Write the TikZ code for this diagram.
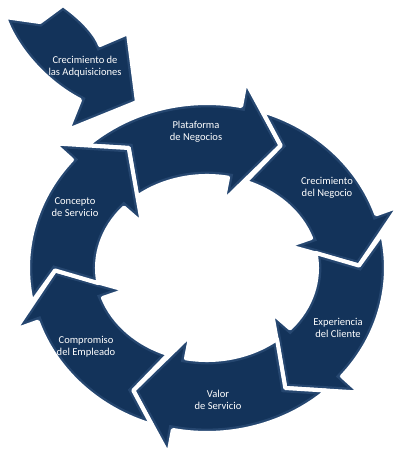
\documentclass[tikz,border=0pt]{standalone}
\usepackage{fontspec}
\setsansfont{Carlito}
\definecolor{navy}{RGB}{19,51,90}
\definecolor{navyrim}{RGB}{52,86,128}

% outline of one curved arrow of the ring, #1 = angle of its tail
\newcommand{\cyclepath}[1]{(#1+4:179 and 165)
    arc[start angle=#1+4, end angle=#1-49, x radius=179, y radius=165]
    -- (#1-49:203 and 190) -- (#1-67:152 and 140) -- (#1-49:86 and 68)
    -- (#1-49:110 and 92)
    arc[start angle=#1-49, end angle=#1+1.5, x radius=110, y radius=92]
    -- (#1-7:152 and 140) -- cycle}
\newcommand{\incomingpath}{(5,450) -- (40,445) -- (63,462)
    .. controls (80,450) and (95,435) .. (100,422) -- (128,434) -- (137,365)
    -- (68,337) -- (80,367) .. controls (45,385) and (15,420) .. cycle}
% filled arrow with a soft light rim and a white gap round it
\newcommand{\bevelarrow}[1]{%
  \begin{scope}
    \clip #1;
    \fill[navy] #1;
    \draw[navyrim!55!navy, line width=5pt] #1;
    \draw[navyrim, line width=2.6pt] #1;
  \end{scope}
  \draw[gapline] #1;}

\begin{document}
\begin{tikzpicture}[x=0.02cm, y=0.02cm,
  gapline/.style={draw=white, line width=2.3pt, line join=round},
  arrowtext/.style={text=white, font=\sffamily\fontsize{6}{7}\selectfont, align=center}]

  \useasboundingbox (0,0) rectangle (418,467);

  % incoming arrow
  \bevelarrow{\incomingpath}

  % the ring
  \begin{scope}[shift={(207,199)}]
    \foreach \a in {128,68,8,-52,-112,-172} {\bevelarrow{\cyclepath{\a}}}
  \end{scope}

  \node[arrowtext] (adquisiciones) at (85,400) {Crecimiento de\\las Adquisiciones};
  \node[arrowtext] (plataforma) at (196,335) {Plataforma\\de Negocios};
  \node[arrowtext] (negocio) at (327,279) {Crecimiento\\del Negocio};
  \node[arrowtext] (cliente) at (338,139) {Experiencia\\del Cliente};
  \node[arrowtext] (valor) at (218,67) {Valor\\de Servicio};
  \node[arrowtext] (empleado) at (86,120) {Compromiso\\del Empleado};
  \node[arrowtext] (concepto) at (75,260) {Concepto\\de Servicio};
\end{tikzpicture}
\end{document}
